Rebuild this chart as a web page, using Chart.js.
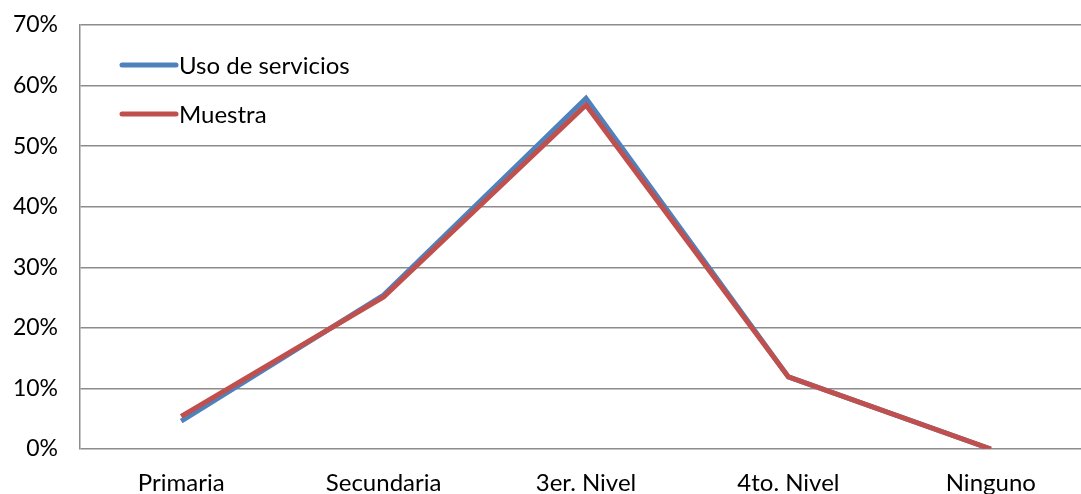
<!DOCTYPE html>
<html>
<head>
<meta charset="utf-8">
<script src="https://cdn.jsdelivr.net/npm/chart.js@4"></script>
<style>
  html, body { margin: 0; padding: 0; background: #fff; overflow: hidden; }
  #wrap { width: 1100px; height: 494px; }
</style>
</head>
<body>
<div id="wrap"><canvas id="nivelChart"></canvas></div>
<script>
  const categorias = ['Primaria', 'Secundaria', '3er. Nivel', '4to. Nivel', 'Ninguno'];
  const usoServicios = [4.6, 25.4, 57.9, 11.9, 0];
  const muestra = [5.4, 25.1, 56.8, 11.9, 0];
  const yTicks = [0, 10, 20, 30, 40, 50, 60, 70];

  const FONT = 'Lato, "Open Sans", sans-serif';

  // legend drawn inside the plot, top-left, one entry per row
  const innerLegend = {
    id: 'innerLegend',
    afterDatasetsDraw(chart) {
      const ctx = chart.ctx;
      const rows = [65, 114];
      ctx.save();
      ctx.font = '24px ' + FONT;
      ctx.textBaseline = 'middle';
      chart.data.datasets.forEach((ds, i) => {
        const y = rows[i];
        ctx.strokeStyle = ds.borderColor;
        ctx.lineWidth = 5;
        ctx.lineCap = 'round';
        ctx.beginPath();
        ctx.moveTo(122, y);
        ctx.lineTo(176, y);
        ctx.stroke();
        ctx.fillStyle = '#000';
        ctx.fillText(ds.label, 179, y + 1);
      });
      ctx.restore();
    }
  };

  const data = {
    labels: categorias,
    datasets: [{
      label: 'Uso de servicios',
      data: usoServicios,
      borderColor: '#4F81BD',
      borderWidth: 5,
      pointRadius: 0,
      tension: 0,
      order: 1
    }, {
      label: 'Muestra',
      data: muestra,
      borderColor: '#C0504D',
      borderWidth: 5,
      pointRadius: 0,
      tension: 0,
      order: 0
    }]
  };

  const config = {
    type: 'line',
    data: data,
    plugins: [innerLegend],
    options: {
      responsive: true,
      maintainAspectRatio: false,
      animation: false,
      layout: { padding: { left: 0, top: 25, right: 8, bottom: 0 } },
      plugins: {
        legend: { display: false },
        title: { display: false },
        tooltip: { enabled: false }
      },
      scales: {
        x: {
          offset: true,
          grid: { display: false, drawTicks: false },
          border: { display: false },
          ticks: {
            padding: 20,
            color: '#000',
            font: { family: FONT, size: 24 },
            maxRotation: 0
          },
          afterFit(scale) {
            scale.height = 45;
            scale.paddingLeft = 0;
            scale.paddingRight = 0;
          }
        },
        y: {
          min: 0,
          max: 70,
          afterBuildTicks(scale) { scale.ticks = yTicks.map(v => ({ value: v })); },
          grid: { color: '#8c8c8c', lineWidth: 1.5, drawTicks: false },
          border: { display: true, color: '#8c8c8c', width: 1.5 },
          ticks: {
            padding: 22,
            color: '#000',
            font: { family: FONT, size: 23 },
            callback: v => v + '%'
          },
          afterFit(scale) {
            scale.width = 80;
            scale.paddingTop = 0;
            scale.paddingBottom = 0;
          }
        }
      }
    }
  };

  const chart = new Chart(
    document.getElementById('nivelChart'),
    config
  );
</script>
</body>
</html>
